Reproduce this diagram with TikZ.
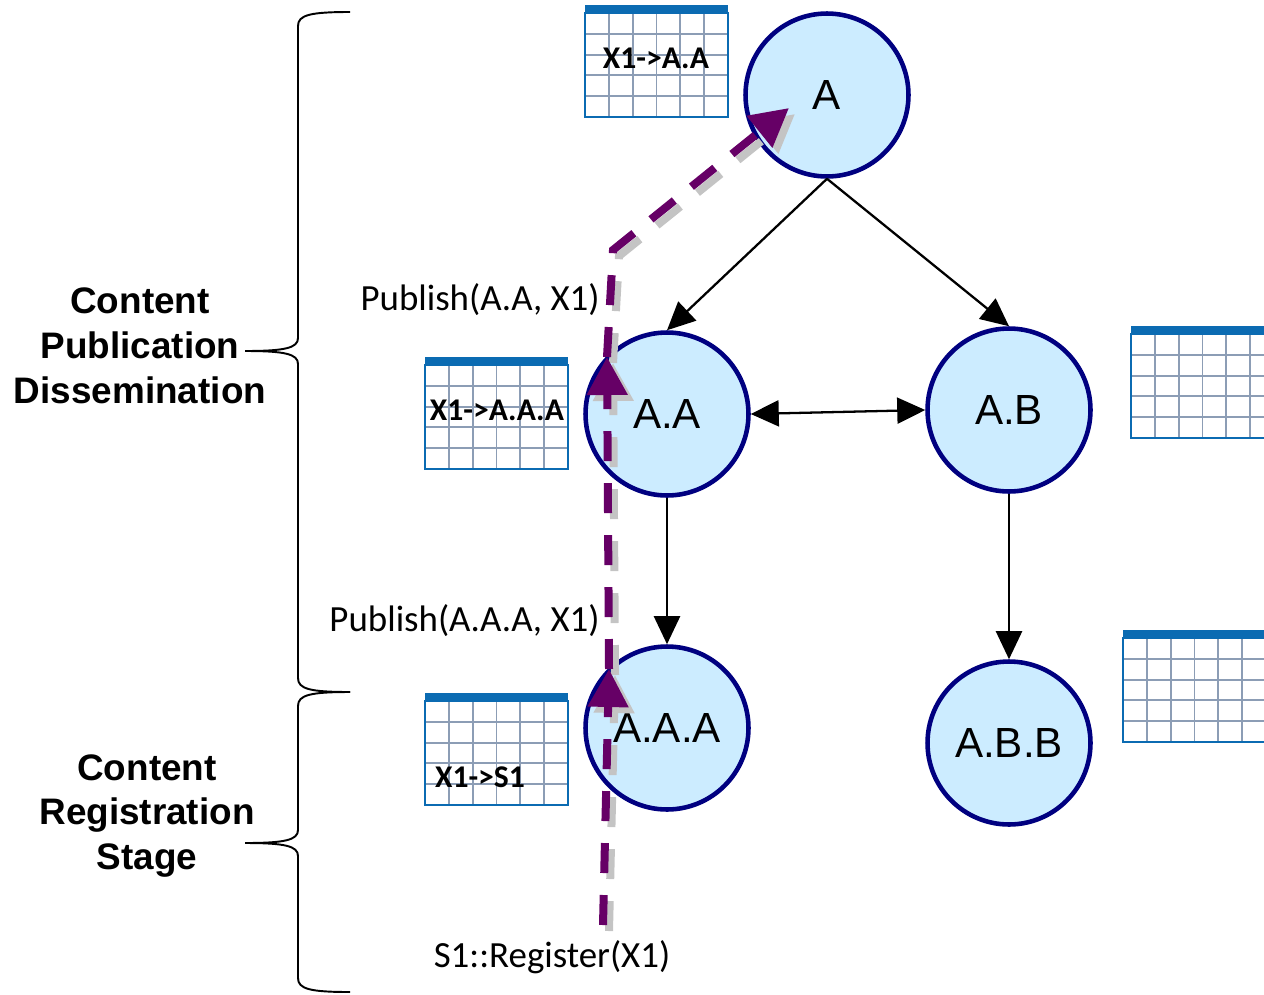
\documentclass[tikz,border=0pt]{standalone}
\usepackage{fontspec}
\setmainfont{Carlito}
\newfontfamily\arialfont{Liberation Sans}
\usetikzlibrary{arrows.meta,calc}

\definecolor{routerfill}{HTML}{CCECFF}
\definecolor{routerline}{HTML}{000080}
\definecolor{pubpurple}{HTML}{660066}
\definecolor{shadowgray}{HTML}{C4C4C4}
\definecolor{tblblue}{HTML}{0B6BB2}
\definecolor{tblgrid}{HTML}{8C9DB5}

% draw one forwarding table, #1 = name, #2 = top left of the grid
\newcommand{\fibtable}[2]{%
  \node[fib table, anchor=north west] (#1) at (#2) {};
  \fill[tblblue] (#1.north west) rectangle ++(143,-8);
  \foreach \c in {1,...,5}
  \draw[fib grid] ($(#1.north west)!\c/6!(#1.north east)$) -- ($(#1.south west)!\c/6!(#1.south east)$);
  \foreach \r in {1,...,4}
  \draw[fib grid] ($(#1.north west)!\r/5!(#1.south west)$) -- ($(#1.north east)!\r/5!(#1.south east)$);
  \draw[tblblue, line width=1.4pt] (#1.north west) rectangle (#1.south east);
}

\begin{document}
\begin{tikzpicture}[x=0.02cm, y=-0.02cm, >={Triangle[length=0.56cm,width=0.52cm]}]
				\tikzstyle{router}=[circle, draw=routerline, line width=2.6pt, fill=routerfill, minimum size=3.26cm, inner sep=0pt, font=\arialfont\fontsize{24}{28}\selectfont]
				\tikzstyle{link}=[line width=1.3pt, black]
				\tikzstyle{fib table}=[rectangle, fill=white, minimum width=2.86cm, minimum height=2.08cm, outer sep=0pt, inner sep=0pt]
				\tikzstyle{fib grid}=[tblgrid, line width=1.1pt]
				\tikzstyle{fib label}=[font=\bfseries\fontsize{18}{20}\selectfont, inner sep=0pt]
				\tikzstyle{msg label}=[font=\fontsize{21}{24}\selectfont, inner sep=0pt]
				\tikzstyle{stage label}=[align=center, font=\arialfont\bfseries\fontsize{21}{25.6}\selectfont]
				\tikzstyle{stage brace}=[line width=1.1pt, black]
				\tikzstyle{pub path}=[line width=0.16cm, dash pattern=on 0.6cm off 0.44cm, -{Triangle[length=0.76cm,width=0.78cm]}]
				
				\useasboundingbox (0,0) rectangle (1264,994);
				\clip (0,0) rectangle (1264,994);
				
				% Forwarding tables
				\fibtable{tblA}{585,13}
				\fibtable{tblAA}{425,365}
				\fibtable{tblAAA}{425,701}
				\fibtable{tblAB}{1131,334}
				\fibtable{tblABB}{1123,638}
				\node[fib label] (lblA) at (656,58) {X1->A.A};
				\node[fib label] (lblAA) at (497,410) {X1->A.A.A};
				\node[fib label] (lblAAA) at (480,777) {X1->S1};
				
				% Routers
				\node[router] (A) at (827,95) {A};
				\node[router] (AA) at (667,414) {A.A};
				\node[router] (AB) at (1009,410) {A.B};
				\node[router] (AAA) at (667,728) {A.A.A};
				\node[router] (ABB) at (1009,743) {A.B.B};
				
				% Tree links
				\draw[link,->] (A.south) -- (AA.north);
				\draw[link,->] (A.south) -- (AB.north);
				\draw[link,<->] (AA.east) -- (AB.west);
				\draw[link,->] (AA.south) -- (AAA.north);
				\draw[link,->] (AB.south) -- (ABB.north);
				
				% Messages
				\node[msg label, anchor=east] (pubAA) at (600,300) {Publish(A.A, X1)};
				\node[msg label, anchor=east] (pubAAA) at (600,621) {Publish(A.A.A, X1)};
				\node[msg label] (reg) at (552,957) {S1::Register(X1)};
				
				% Publication path (with its shadow)
				\coordinate (s1) at (603,925);
				\coordinate (p1) at (609,669);
				\coordinate (p2) at (607,357);
				\coordinate (bend) at (613,250);
				\coordinate (p3) at (789,108);
				\foreach \clr/\off in {shadowgray/6, pubpurple/0} {
				\begin{scope}[transform canvas={shift={(\off,\off)}}]
				\draw[pub path, color=\clr] (s1) -- (p1);
				\draw[pub path, color=\clr] (p1) -- (p2);
				\draw[pub path, color=\clr] (p2) -- (bend) -- (p3);
				\end{scope}
				}
				
				% Stages
				\coordinate (pubTip) at (245,351);
				\coordinate (regTip) at (245,843);
				\draw[stage brace] (350,12) .. controls (310,12) and (298,15) .. (298,26) -- (298,338)
				.. controls (298,348) and (285,351) .. (pubTip)
				.. controls (285,351) and (298,354) .. (298,364) -- (298,678)
				.. controls (298,689) and (310,692) .. (350,692);
				\draw[stage brace] (350,692) .. controls (310,692) and (298,695) .. (298,706) -- (298,830)
				.. controls (298,840) and (285,843) .. (regTip)
				.. controls (285,843) and (298,846) .. (298,856) -- (298,978)
				.. controls (298,989) and (310,992) .. (350,992);
				\node[stage label] (pubStage) at (140,346) {Content\\Publication\\Dissemination};
				\node[stage label] (regStage) at (147,816) {Content\\Registration\\Stage};
				
			\end{tikzpicture}
\end{document}
